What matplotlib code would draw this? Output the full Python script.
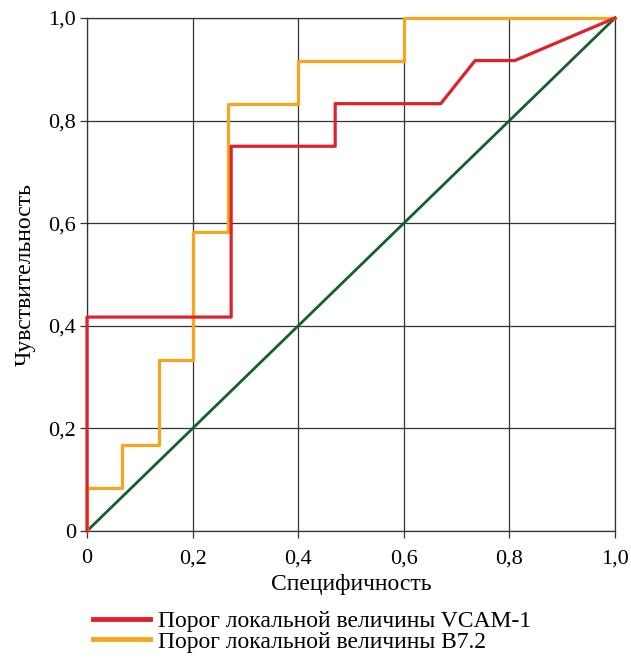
import matplotlib.pyplot as plt

plt.rcParams['font.family'] = ['Liberation Serif', 'DejaVu Serif']

# ROC curve points (1 - specificity, sensitivity)
vcam_x = [0, 0, 0.273, 0.273, 0.47, 0.47, 0.67, 0.735, 0.81, 1.0]
vcam_y = [0, 0.417, 0.417, 0.75, 0.75, 0.833, 0.833, 0.917, 0.917, 1.0]

b72_x = [0, 0, 0.067, 0.067, 0.136, 0.136, 0.2, 0.2, 0.267, 0.267, 0.4, 0.4, 0.6, 0.6, 1.0]
b72_y = [0, 0.083, 0.083, 0.167, 0.167, 0.333, 0.333, 0.583, 0.583, 0.833, 0.833, 0.917, 0.917, 1.0, 1.0]

ref_x = [0, 1]
ref_y = [0, 1]

ticks = [0, 0.2, 0.4, 0.6, 0.8, 1.0]
tick_labels = ["0", "0,2", "0,4", "0,6", "0,8", "1,0"]

fig = plt.figure(figsize=(6.31, 6.58), dpi=100)
ax = fig.add_axes([87/631, 1 - 531/658, (615-87)/631, (531-18)/658])

ax.plot(ref_x, ref_y, color="#15602a", lw=2, zorder=3, clip_on=False)
ax.plot(b72_x, b72_y, color="#f8a51e", lw=2.3, zorder=4, clip_on=False,
        label="Порог локальной величины B7.2")
ax.plot(vcam_x, vcam_y, color="#e0202a", lw=2.3, zorder=5, clip_on=False,
        label="Порог локальной величины VCAM-1")

ax.set_xlim(0, 1)
ax.set_ylim(0, 1)
ax.set_xticks(ticks)
ax.set_xticklabels(tick_labels)
ax.set_yticks(ticks)
ax.set_yticklabels(tick_labels)
ax.grid(True, color="#333333", lw=0.9)
for s in ax.spines.values():
    s.set_color("#333333")
    s.set_linewidth(0.9)
ax.tick_params(length=5, width=0.9, color="#333333", labelsize=16)
ax.tick_params(axis="x", pad=8)
ax.tick_params(axis="y", pad=3)

ax.set_xlabel("Специфичность", fontsize=17, labelpad=4)
ax.set_ylabel("Чувствительность", fontsize=17, labelpad=9)

h, l = ax.get_legend_handles_labels()
leg = fig.legend(h[::-1], l[::-1], loc="lower left", bbox_to_anchor=(0.133, -0.006), frameon=False,
                 fontsize=17, handlelength=2.4, handletextpad=0.35, labelspacing=-0.05,
                 borderaxespad=0.0)
for ln in leg.get_lines():
    ln.set_linewidth(3.5)

fig.savefig("out.png", dpi=100)
